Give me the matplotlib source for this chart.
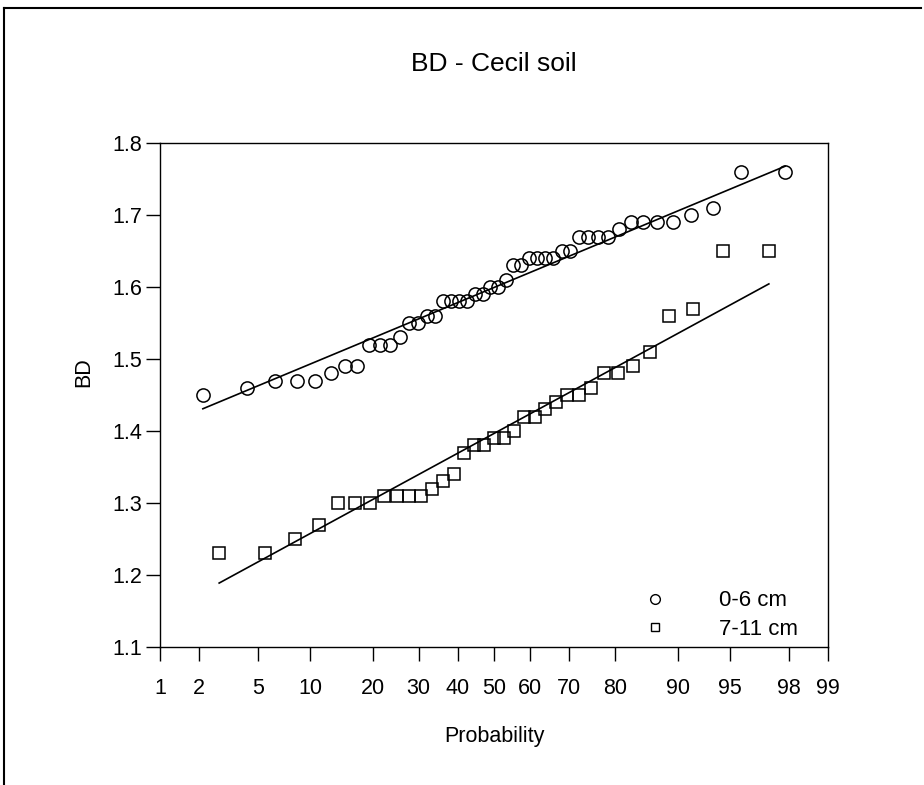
import numpy as np
import matplotlib
matplotlib.use('Agg')
import matplotlib.pyplot as plt
from matplotlib.lines import Line2D
from statistics import NormalDist

plt.rcParams['font.family'] = ['Liberation Sans', 'DejaVu Sans']

# bulk density values (sorted)
bd_0_6 = [1.45, 1.46, 1.47, 1.47, 1.47, 1.48, 1.49, 1.49, 1.52, 1.52, 1.52, 1.53,
          1.55, 1.55, 1.56, 1.56, 1.58, 1.58, 1.58, 1.58, 1.59, 1.59, 1.60, 1.60,
          1.61, 1.63, 1.63, 1.64, 1.64, 1.64, 1.64, 1.65, 1.65, 1.67, 1.67, 1.67,
          1.67, 1.68, 1.69, 1.69, 1.69, 1.69, 1.70, 1.71, 1.76, 1.76]
bd_7_11 = [1.23, 1.23, 1.25, 1.27, 1.30, 1.30, 1.30, 1.31, 1.31, 1.31, 1.31, 1.32,
           1.33, 1.34, 1.37, 1.38, 1.38, 1.39, 1.39, 1.40, 1.42, 1.42, 1.43, 1.44,
           1.45, 1.45, 1.46, 1.48, 1.48, 1.49, 1.51, 1.56, 1.57, 1.65, 1.65]
labels = ['0-6 cm', '7-11 cm']
prob_ticks = [1, 2, 5, 10, 20, 30, 40, 50, 60, 70, 80, 90, 95, 98, 99]

nd = NormalDist()
_ppf = np.vectorize(nd.inv_cdf, otypes=[float])
_cdf = np.vectorize(nd.cdf, otypes=[float])


def fwd(p):
    p = np.clip(np.asarray(p, dtype=float), 1e-4, 100 - 1e-4)
    return _ppf(p / 100.0)


def inv(z):
    return 100.0 * _cdf(np.asarray(z, dtype=float))


def positions(vals):
    n = len(vals)
    return 100.0 * np.arange(1, n + 1) / (n + 1)


fig = plt.figure(figsize=(9.24, 7.85), dpi=100)
ax = fig.add_axes([0.1732, 0.1758, 0.7229, 0.642])
ax.set_xscale('function', functions=(fwd, inv))

for vals, mk, ms in [(bd_0_6, 'o', 9.5), (bd_7_11, 's', 8)]:
    v = np.array(vals)
    p = positions(v)
    ax.plot(p, v, linestyle='none', marker=mk, ms=ms, mfc='none', mec='black', mew=1.1)
    # normal distribution line (mean, sd)
    pe = np.array([p[0], p[-1]])
    ax.plot(pe, v.mean() + v.std(ddof=1) * fwd(pe), color='black', lw=1.2)

ax.set_xlim(1, 99)
ax.set_ylim(1.1, 1.8)
ax.set_xticks(prob_ticks)
ax.set_xticklabels([str(t) for t in prob_ticks])
ax.xaxis.set_minor_locator(matplotlib.ticker.NullLocator())
ax.set_yticks(np.arange(1.1, 1.81, 0.1))
ax.set_yticklabels(['%.1f' % t for t in np.arange(1.1, 1.81, 0.1)])
ax.tick_params(direction='out', length=10, width=1, labelsize=15.5)
ax.tick_params(axis='x', pad=12)
ax.tick_params(axis='y', pad=3)
for s in ax.spines.values():
    s.set_linewidth(1)

ax.set_xlabel('Probability', fontsize=15.5, labelpad=20)
ax.set_ylabel('BD', fontsize=15.5)
ax.yaxis.set_label_coords(-0.098, 0.545)
ax.set_title('BD - Cecil soil', fontsize=19, pad=52)

handles = [Line2D([], [], ls='none', marker='o', ms=7, mfc='none', mec='black', mew=1),
           Line2D([], [], ls='none', marker='s', ms=6, mfc='none', mec='black', mew=1)]
ax.legend(handles, labels, loc='lower right', frameon=False, fontsize=16,
          handletextpad=1.9, labelspacing=0.35, bbox_to_anchor=(0.985, -0.026))

# outer frame
fig.add_artist(Line2D([0.004, 0.004], [0.0, 0.99], transform=fig.transFigure, color='black', lw=1.5))
fig.add_artist(Line2D([0.004, 0.997], [0.99, 0.99], transform=fig.transFigure, color='black', lw=1.5))

fig.savefig('out.png', dpi=100)
